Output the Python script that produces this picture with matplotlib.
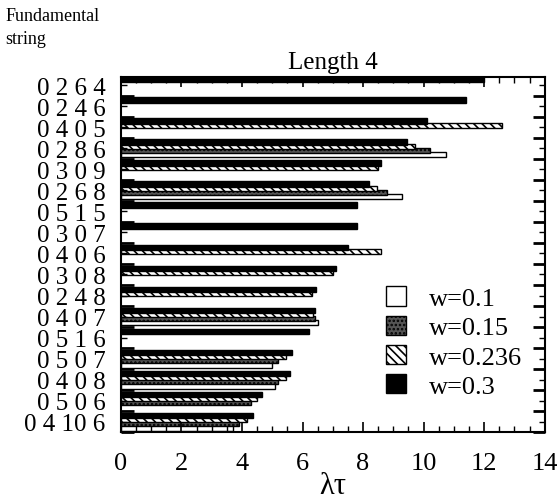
import numpy as np
import matplotlib
matplotlib.use("Agg")
import matplotlib.pyplot as plt
from matplotlib.ticker import MultipleLocator, FixedLocator

nan = np.nan

# fundamental strings (top to bottom)
strings = ['0 2 6 4', '0 2 4 6', '0 4 0 5', '0 2 8 6', '0 3 0 9', '0 2 6 8',
           '0 5 1 5', '0 3 0 7', '0 4 0 6', '0 3 0 8', '0 2 4 8', '0 4 0 7',
           '0 5 1 6', '0 5 0 7', '0 4 0 8', '0 5 0 6', '0 4 10 6']

# lambda*tau for each w value (nan = no bar)
w_03 = [12.0, 11.4, 10.1, 9.45, 8.6, 8.2, 7.8, 7.8, 7.5, 7.1, 6.45, 6.4, 6.2,
        5.65, 5.6, 4.65, 4.35]
w_0236 = [nan, nan, 12.6, 9.7, 8.5, 8.45, nan, nan, 8.6, 7.0, 6.3, 6.35, nan,
          5.45, 5.45, 4.5, 4.15]
w_015 = [nan, nan, nan, 10.2, nan, 8.8, nan, nan, nan, nan, nan, 6.4, nan,
         5.2, 5.2, 4.3, 3.9]
w_01 = [nan, nan, nan, 10.75, nan, 9.3, nan, nan, nan, nan, nan, 6.5, nan,
        5.0, 5.1, nan, 3.7]

plt.rcParams['font.family'] = ['Liberation Serif', 'DejaVu Serif']
plt.rcParams['hatch.linewidth'] = 1.2

fig = plt.figure(figsize=(5.57, 5.02), dpi=100)
ax = fig.add_axes([0.217, 0.137, 0.761, 0.708])

y = np.arange(len(strings))
h = 0.25
series = [
    (w_01, dict(color='white', edgecolor='black', hatch=None), 0.30, 'w=0.1'),
    (w_015, dict(color='#555555', edgecolor='black', hatch='....'), 0.10, 'w=0.15'),
    (w_0236, dict(color='white', edgecolor='black', hatch='\\\\\\\\'), -0.10, 'w=0.236'),
    (w_03, dict(color='black', edgecolor='black', hatch=None), -0.30, 'w=0.3'),
]
handles = []
for vals, style, off, lab in series:
    b = ax.barh(y + off, vals, height=h, linewidth=1.0, label=lab, **style)
    handles.append(b)

ax.set_xlim(0, 14)
ax.set_ylim(len(strings) - 0.5, -0.4)
ax.set_yticks(y)
ax.set_yticklabels(strings, fontsize=18)
ax.yaxis.set_minor_locator(FixedLocator(np.arange(-0.5, len(strings), 1.0)))
ax.xaxis.set_major_locator(MultipleLocator(2))
ax.xaxis.set_minor_locator(MultipleLocator(0.5))
ax.tick_params(axis='x', which='both', direction='in', top=True, labelsize=19, pad=14)
ax.tick_params(axis='x', which='major', length=7, width=1.2)
ax.tick_params(axis='x', which='minor', length=4, width=1.0)
ax.tick_params(axis='y', which='both', direction='in', right=True, pad=11)
ax.tick_params(axis='y', which='major', length=4, width=1.0)
ax.tick_params(axis='y', which='minor', length=9, width=2.0)
for s in ax.spines.values():
    s.set_linewidth(1.5)

ax.set_xlabel('λτ', fontsize=22, labelpad=-2)
ax.set_title('Length 4', fontsize=18, pad=6)
fig.text(0.01, 0.945, 'Fundamental\nstring', fontsize=13, ha='left', va='center',
         linespacing=1.45)

ax.legend(handles=handles, loc='upper left', bbox_to_anchor=(0.6, 0.44),
          frameon=False, fontsize=19, handlelength=0.75, handleheight=0.75,
          labelspacing=0.2, handletextpad=0.9, borderaxespad=0)

fig.savefig('out.png', dpi=100)
